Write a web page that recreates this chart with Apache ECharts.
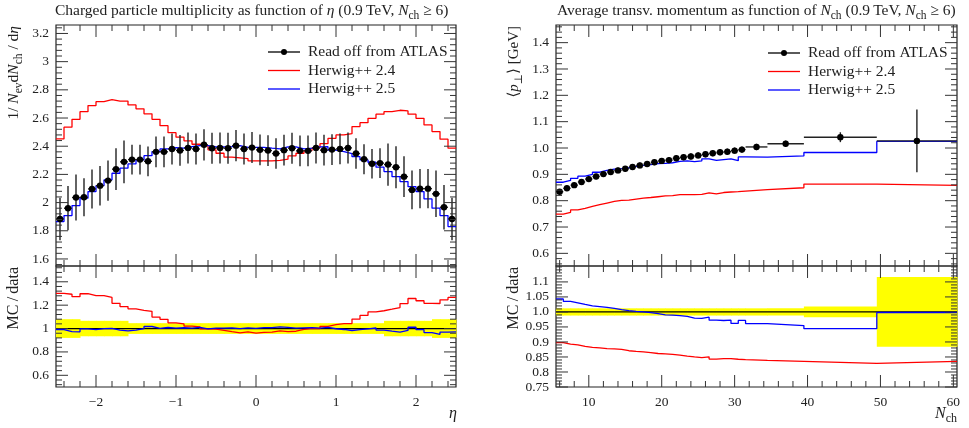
<!DOCTYPE html>
<html>
<head>
<meta charset="utf-8">
<script src="https://cdn.jsdelivr.net/npm/echarts@6/dist/echarts.min.js"></script>
<style>
  html, body { margin: 0; padding: 0; background: #fff; }
  #chart { width: 969px; height: 428px; }
</style>
</head>
<body>
<div id="chart"></div>
<script>
// Left: charged particle multiplicity vs eta, 50 bins of 0.1 from -2.5
const etaLow = -2.5;
const etaBinWidth = 0.1;
const atlasEta = [
  1.884, 1.960, 2.036, 2.038, 2.097, 2.120, 2.156, 2.237, 2.289, 2.305,
  2.305, 2.293, 2.360, 2.360, 2.380, 2.370, 2.388, 2.380, 2.410, 2.386,
  2.388, 2.386, 2.404, 2.380, 2.390, 2.374, 2.369, 2.348, 2.372, 2.386,
  2.367, 2.367, 2.388, 2.372, 2.376, 2.381, 2.388, 2.348, 2.308, 2.275,
  2.280, 2.270, 2.251, 2.184, 2.090, 2.099, 2.099, 2.062, 1.967, 1.884
];
const atlasEtaRelErr = [
  0.080, 0.080, 0.080, 0.066, 0.066, 0.066, 0.066, 0.066, 0.066, 0.046,
  0.046, 0.046, 0.046, 0.046, 0.046, 0.046, 0.046, 0.046, 0.046, 0.046,
  0.046, 0.046, 0.046, 0.046, 0.046, 0.046, 0.046, 0.046, 0.046, 0.046,
  0.046, 0.046, 0.046, 0.046, 0.046, 0.046, 0.046, 0.046, 0.046, 0.046,
  0.046, 0.066, 0.066, 0.066, 0.066, 0.066, 0.066, 0.080, 0.080, 0.080
];
const herwig24Eta = [
  2.452, 2.535, 2.591, 2.645, 2.688, 2.716, 2.730, 2.720, 2.720, 2.693,
  2.665, 2.630, 2.591, 2.546, 2.496, 2.464, 2.438, 2.414, 2.402, 2.374,
  2.350, 2.322, 2.317, 2.312, 2.296, 2.296, 2.296, 2.300, 2.308, 2.331,
  2.350, 2.369, 2.388, 2.418, 2.456, 2.480, 2.489, 2.539, 2.567, 2.598,
  2.627, 2.645, 2.655, 2.650, 2.627, 2.598, 2.551, 2.504, 2.450, 2.386
];
const herwig25Eta = [
  1.865, 1.908, 1.979, 2.031, 2.078, 2.120, 2.161, 2.208, 2.244, 2.274,
  2.303, 2.333, 2.362, 2.381, 2.390, 2.386, 2.397, 2.404, 2.404, 2.395,
  2.395, 2.397, 2.404, 2.392, 2.392, 2.392, 2.386, 2.381, 2.395, 2.395,
  2.381, 2.386, 2.395, 2.397, 2.372, 2.362, 2.348, 2.326, 2.303, 2.286,
  2.251, 2.220, 2.184, 2.149, 2.113, 2.078, 2.026, 1.960, 1.908, 1.830
];

// Right: mean pT vs Nch
const nchEdges = [
  5.5, 6.5, 7.5, 8.5, 9.5, 10.5, 11.5, 12.5, 13.5, 14.5, 15.5, 16.5, 17.5, 18.5,
  19.5, 20.5, 21.5, 22.5, 23.5, 24.5, 25.5, 26.5, 27.5, 28.5, 29.5, 30.5, 31.5,
  34.5, 39.5, 49.5, 60.5
];
const atlasPt = [
  0.834, 0.847, 0.859, 0.871, 0.882, 0.892, 0.901, 0.909, 0.915, 0.921,
  0.928, 0.934, 0.939, 0.946, 0.951, 0.954, 0.961, 0.965, 0.968, 0.972,
  0.976, 0.980, 0.984, 0.986, 0.990, 0.994, 1.004, 1.016, 1.041, 1.027
];
const atlasPtRelErr = [
  0.012, 0.012, 0.012, 0.012, 0.012, 0.012, 0.012, 0.012, 0.012, 0.012,
  0.012, 0.012, 0.012, 0.012, 0.012, 0.012, 0.012, 0.012, 0.012, 0.012,
  0.012, 0.012, 0.012, 0.012, 0.012, 0.012, 0.012, 0.012, 0.018, 0.116
];
const herwig24Pt = [
  0.749, 0.756, 0.765, 0.771, 0.778, 0.785, 0.791, 0.797, 0.801, 0.802,
  0.806, 0.810, 0.812, 0.815, 0.818, 0.819, 0.823, 0.823, 0.823, 0.824,
  0.830, 0.826, 0.831, 0.833, 0.834, 0.836, 0.842, 0.849, 0.863, 0.858
];
const herwig25Pt = [
  0.870, 0.877, 0.885, 0.893, 0.900, 0.908, 0.915, 0.920, 0.922, 0.925,
  0.930, 0.934, 0.937, 0.941, 0.942, 0.944, 0.949, 0.951, 0.948, 0.951,
  0.959, 0.953, 0.956, 0.959, 0.952, 0.966, 0.965, 0.970, 0.983, 1.025
];

// tick labels
const etaTicks = [-2, -1, 0, 1, 2];
const etaYTicks = [1.6, 1.8, 2, 2.2, 2.4, 2.6, 2.8, 3, 3.2];
const etaRatioTicks = [0.6, 0.8, 1, 1.2, 1.4];
const nchTicks = [10, 20, 30, 40, 50, 60];
const ptYTicks = [0.6, 0.7, 0.8, 0.9, 1.0, 1.1, 1.2, 1.3, 1.4];
const ptRatioTicks = [0.75, 0.8, 0.85, 0.9, 0.95, 1.0, 1.05, 1.1];

const legendNames = ['Read off from ATLAS', 'Herwig++ 2.4', 'Herwig++ 2.5'];
const RED = '#ff0000';
const BLUE = '#0000ff';
const SERIF = '"Liberation Serif", "DejaVu Serif", serif';

const etaEdges = atlasEta.map((_, i) => +(etaLow + i * etaBinWidth).toFixed(2))
  .concat(+(etaLow + atlasEta.length * etaBinWidth).toFixed(2));

const stepData = (edges, vals) => {
  const pts = vals.map((v, i) => [edges[i], v]);
  pts.push([edges[edges.length - 1], vals[vals.length - 1]]);
  return pts;
};
const ratio = (mc, data) => mc.map((v, i) => v / data[i]);
const pointData = (edges, vals, rel) =>
  vals.map((v, i) => [(edges[i] + edges[i + 1]) / 2, v, v * rel[i], (edges[i + 1] - edges[i]) / 2]);
const bandData = (edges, rel) => rel.map((e, i) => [edges[i], 1 - e, edges[i + 1], 1 + e]);

// tick marks on all four sides, major + minor (minor positions are just axis decoration)
const tickData = (p) => {
  const out = [];
  const seq = (lo, hi, step) => {
    const r = [];
    for (let v = Math.ceil(lo / step - 1e-9) * step; v <= hi + 1e-9; v += step) r.push(+v.toFixed(4));
    return r;
  };
  const isMajor = (list, v) => list.some((m) => Math.abs(m - v) < 1e-6);
  seq(p.x[0], p.x[1], p.xMinor).forEach((v) => { if (!isMajor(p.xMajor, v)) out.push([v, p.y[0], 0, 0]); });
  p.xMajor.forEach((v) => out.push([v, p.y[0], 1, 0]));
  seq(p.y[0], p.y[1], p.yMinor).forEach((v) => { if (!isMajor(p.yMajor, v)) out.push([p.x[0], v, 0, 1]); });
  p.yMajor.forEach((v) => out.push([p.x[0], v, 1, 1]));
  return out;
};

const renderTicks = (params, api) => {
  const cs = params.coordSys;
  const pt = api.coord([api.value(0), api.value(1)]);
  const len = api.value(2) === 1 ? 12 : 6;
  const style = { stroke: '#333', lineWidth: 1 };
  if (api.value(3) === 0) {
    const bottom = cs.y + cs.height;
    return { type: 'group', children: [
      { type: 'line', shape: { x1: pt[0], y1: bottom, x2: pt[0], y2: bottom - len }, style },
      { type: 'line', shape: { x1: pt[0], y1: cs.y, x2: pt[0], y2: cs.y + len }, style }
    ] };
  }
  const right = cs.x + cs.width;
  return { type: 'group', children: [
    { type: 'line', shape: { x1: cs.x, y1: pt[1], x2: cs.x + len, y2: pt[1] }, style },
    { type: 'line', shape: { x1: right, y1: pt[1], x2: right - len, y2: pt[1] }, style }
  ] };
};

const renderPoints = (params, api) => {
  const x = api.value(0), y = api.value(1), err = api.value(2), hw = api.value(3);
  const c = api.coord([x, y]);
  const top = api.coord([x, y + err]);
  const bot = api.coord([x, y - err]);
  const l = api.coord([x - hw, y]);
  const r = api.coord([x + hw, y]);
  const style = { stroke: '#222', lineWidth: 1.4 };
  return { type: 'group', children: [
    { type: 'line', shape: { x1: c[0], y1: top[1], x2: c[0], y2: bot[1] }, style },
    { type: 'line', shape: { x1: l[0], y1: c[1], x2: r[0], y2: c[1] }, style },
    { type: 'circle', shape: { cx: c[0], cy: c[1], r: 3.2 }, style: { fill: '#000' } }
  ] };
};

const renderBand = (params, api) => {
  const p0 = api.coord([api.value(0), api.value(3)]);
  const p1 = api.coord([api.value(2), api.value(1)]);
  return { type: 'rect', shape: { x: p0[0], y: p0[1], width: p1[0] - p0[0] + 0.5, height: p1[1] - p0[1] },
    style: { fill: '#ffff00' } };
};

const ratioFmt = (v) => (Math.abs(v * 10 - Math.round(v * 10)) < 1e-6 ? v.toFixed(1) : v.toFixed(2));

const panels = [
  { grid: { left: 56, top: 25, width: 400, height: 241 }, x: [-2.5, 2.5], y: [1.55, 3.26],
    xMajor: etaTicks, xMinor: 0.2, yMajor: etaYTicks, yMinor: 0.04, xLabels: false },
  { grid: { left: 56, top: 266, width: 400, height: 121 }, x: [-2.5, 2.5], y: [0.5, 1.535],
    xMajor: etaTicks, xMinor: 0.2, yMajor: etaRatioTicks, yMinor: 0.04, xLabels: true },
  { grid: { left: 556, top: 25, width: 401, height: 241 }, x: [5.5, 60.5], y: [0.552, 1.467],
    xMajor: nchTicks, xMinor: 2, yMajor: ptYTicks, yMinor: 0.02, xLabels: false, yFmt: (v) => v.toFixed(1) },
  { grid: { left: 556, top: 266, width: 401, height: 121 }, x: [5.5, 60.5], y: [0.75, 1.153],
    xMajor: nchTicks, xMinor: 2, yMajor: ptRatioTicks, yMinor: 0.01, xLabels: true, yFmt: ratioFmt }
];

const labelStyle = { color: '#222', fontFamily: SERIF, fontSize: 13.5 };

const stepSeries = (i, data, color) => ({
  type: 'line', xAxisIndex: i, yAxisIndex: i, data, step: 'end', showSymbol: false,
  lineStyle: { color, width: 1.3 }, z: 3, silent: true
});

const series = [];
panels.forEach((p, i) => {
  series.push({ type: 'custom', xAxisIndex: i, yAxisIndex: i, data: tickData(p), renderItem: renderTicks, z: 10, silent: true });
});
// left main
series.push(stepSeries(0, stepData(etaEdges, herwig24Eta), RED));
series.push(stepSeries(0, stepData(etaEdges, herwig25Eta), BLUE));
series.push({ type: 'custom', xAxisIndex: 0, yAxisIndex: 0, data: pointData(etaEdges, atlasEta, atlasEtaRelErr), renderItem: renderPoints, z: 5, silent: true });
// left ratio
series.push({ type: 'custom', xAxisIndex: 1, yAxisIndex: 1, data: bandData(etaEdges, atlasEtaRelErr), renderItem: renderBand, z: 1, silent: true });
series.push(stepSeries(1, [[etaEdges[0], 1], [etaEdges[etaEdges.length - 1], 1]], '#000'));
series.push(stepSeries(1, stepData(etaEdges, ratio(herwig24Eta, atlasEta)), RED));
series.push(stepSeries(1, stepData(etaEdges, ratio(herwig25Eta, atlasEta)), BLUE));
// right main
series.push(stepSeries(2, stepData(nchEdges, herwig24Pt), RED));
series.push(stepSeries(2, stepData(nchEdges, herwig25Pt), BLUE));
series.push({ type: 'custom', xAxisIndex: 2, yAxisIndex: 2, data: pointData(nchEdges, atlasPt, atlasPtRelErr), renderItem: renderPoints, z: 5, silent: true });
// right ratio
series.push({ type: 'custom', xAxisIndex: 3, yAxisIndex: 3, data: bandData(nchEdges, atlasPtRelErr), renderItem: renderBand, z: 1, silent: true });
series.push(stepSeries(3, [[nchEdges[0], 1], [nchEdges[nchEdges.length - 1], 1]], '#000'));
series.push(stepSeries(3, stepData(nchEdges, ratio(herwig24Pt, atlasPt)), RED));
series.push(stepSeries(3, stepData(nchEdges, ratio(herwig25Pt, atlasPt)), BLUE));

// rich text pieces for titles / axis names
const rich = (size) => ({
  n: { fontFamily: SERIF, fontSize: size, lineHeight: size + 6, fill: '#222' },
  i: { fontFamily: SERIF, fontSize: size, fontStyle: 'italic', lineHeight: size + 6, fill: '#222' },
  s: { fontFamily: SERIF, fontSize: size - 4, lineHeight: size - 4, verticalAlign: 'bottom', fill: '#222' }
});
const textEl = (x, y, text, size, align) => ({
  type: 'text', x, y, silent: true,
  style: { text, rich: rich(size), fontFamily: SERIF, fontSize: size, fill: '#222', align: align || 'left', verticalAlign: 'middle' }
});
const vText = (x, y, text, size) => {
  const el = textEl(x, y, text, size, 'right');
  el.rotation = Math.PI / 2;
  return el;
};

const legend = (x0, y0) => {
  const kids = [];
  const colors = ['#000', RED, BLUE];
  legendNames.forEach((name, k) => {
    const y = y0 + k * 18.5;
    kids.push({ type: 'line', shape: { x1: x0, y1: y, x2: x0 + 32, y2: y }, style: { stroke: colors[k], lineWidth: 1.3 } });
    if (k === 0) kids.push({ type: 'circle', shape: { cx: x0 + 16, cy: y, r: 3 }, style: { fill: '#000' } });
    kids.push({ type: 'text', x: x0 + 40, y, style: { text: name, fontFamily: SERIF, fontSize: 15.5, fill: '#222', align: 'left', verticalAlign: 'middle' } });
  });
  return { type: 'group', silent: true, children: kids };
};

const thin = '\u2009';
const graphic = [
  textEl(55, 11, '{n|Charged particle multiplicity as function of }{i|η}{n| (0.9' + thin + 'TeV, }{i|N}{s|ch}{n| ≥ 6)}', 15.5),
  textEl(557, 11, '{n|Average transv. momentum as function of }{i|N}{s|ch}{n| (0.9' + thin + 'TeV, }{i|N}{s|ch}{n| ≥ 6)}', 15.5),
  vText(14, 26, '{n|1/ }{i|N}{s|ev}{n|d}{i|N}{s|ch}{n| / d}{i|η}', 15.5),
  vText(14, 267, '{n|MC' + thin + '/' + thin + 'data}', 16),
  vText(514, 26, '{n|⟨}{i|p}{s|⊥}{n|⟩ [GeV]}', 15),
  vText(514, 267, '{n|MC' + thin + '/' + thin + 'data}', 16),
  textEl(457, 414, '{i|η}', 16, 'right'),
  textEl(957, 414, '{i|N}{s|ch}', 16, 'right'),
  legend(268, 52),
  legend(768, 53)
];

const chart = echarts.init(document.getElementById('chart'));
chart.setOption({
  animation: false,
  backgroundColor: '#fff',
  grid: panels.map((p) => Object.assign({ show: true, borderColor: '#222', borderWidth: 1.2, backgroundColor: 'transparent' }, p.grid)),
  xAxis: panels.map((p, i) => ({
    type: 'value', gridIndex: i, min: p.x[0], max: p.x[1],
    axisLine: { show: false }, axisTick: { show: false }, splitLine: { show: false },
    axisLabel: {
      show: p.xLabels, customValues: p.xMajor, margin: 8, ...labelStyle,
      formatter: (v) => String(v).replace('-', '\u2212')
    }
  })),
  yAxis: panels.map((p, i) => ({
    type: 'value', gridIndex: i, min: p.y[0], max: p.y[1],
    axisLine: { show: false }, axisTick: { show: false }, splitLine: { show: false },
    axisLabel: { customValues: p.yMajor, margin: 7, ...labelStyle, formatter: p.yFmt || ((v) => String(v)) }
  })),
  series,
  graphic
});
</script>
</body>
</html>
